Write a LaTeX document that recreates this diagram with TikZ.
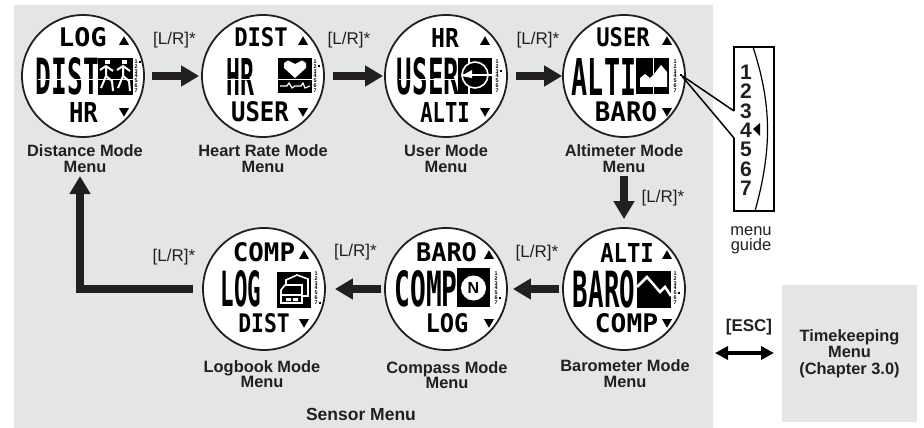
\documentclass[tikz,border=0pt]{standalone}
\usepackage{graphicx}
\usepackage{fontspec}
\setmainfont{Liberation Sans}
\newfontfamily\lcdfont{DejaVu Sans Mono}
\usetikzlibrary{arrows.meta,shapes.geometric}
\definecolor{panelgray}{HTML}{E4E5E7}
\definecolor{inkgray}{HTML}{231F20}
\newcommand{\lcdtext}[3]{\resizebox{1.07\dimexpr #1pt\relax}{#2pt}{\lcdfont\bfseries #3}}
\tikzset{
  face/.style={circle,draw=inkgray,fill=white,line width=1.8pt,minimum size=122pt,inner sep=0pt},
  lcd/.style={inner sep=0pt,text=black},
  icon/.style={rectangle,fill=black,inner sep=0pt},
  iconline/.style={draw=white,line width=2pt},
  lcdgap/.style={draw=white,line width=1pt},
  upmark/.style={regular polygon,regular polygon sides=3,fill=black,inner sep=0pt,minimum size=11.5pt},
  downmark/.style={upmark,shape border rotate=180},
  nums/.style={inner sep=0pt,align=center,text=black,font=\bfseries\fontsize{5.4}{4.8}\selectfont},
  tick/.style={rectangle,fill=black,inner sep=0pt,minimum size=2pt},
  modelabel/.style={inner sep=0pt,align=center,text=inkgray,font=\bfseries\fontsize{16.4}{15.5}\selectfont},
  keylabel/.style={inner sep=0pt,text=inkgray,font=\fontsize{17}{17}\selectfont},
  bigarrow/.style={draw=inkgray,line width=7.5pt,-{Triangle[length=18pt,width=20pt]}},
  esc/.style={draw=black,line width=3.5pt,{Triangle[length=13pt,width=13pt]}-{Triangle[length=13pt,width=13pt]}},
  guideline/.style={draw=black,line width=1.5pt},
  digit/.style={inner sep=0pt,text=inkgray,font=\bfseries\fontsize{21}{21}\selectfont}
}
\begin{document}
\begin{tikzpicture}[x=1pt,y=-1pt]
  \useasboundingbox (0,0) rectangle (924,428);
  \node[fill=panelgray,inner sep=0pt,minimum width=699pt,minimum height=423pt] (sensor) at (363.5,216.5) {};
  \node[fill=panelgray,inner sep=0pt,minimum width=135pt,minimum height=137pt,align=center,text=inkgray,font=\bfseries\fontsize{16.4}{16.6}\selectfont] (timebox) at (849.5,353.5) {Timekeeping\\Menu\\(Chapter 3.0)};

  % top row
  \node[face] (dist) at (83,76) {};
  \node[face] (heart) at (263,76) {};
  \node[face] (user) at (446,76) {};
  \node[face] (alti) at (624,76) {};
  % bottom row
  \node[face] (baro) at (624,289) {};
  \node[face] (comp) at (446,289) {};
  \node[face] (log) at (264,289) {};

  % distance
  \node[lcd] (disttop) at (82.5,37.5) {\lcdtext{45}{19}{LOG}};
  \node[lcd] (distmid) at (67.5,76.5) {\lcdtext{59}{37}{DIST}};
  \node[lcd] (distbot) at (83.5,112) {\lcdtext{27}{20}{HR}};
  \node[icon,minimum width=35pt,minimum height=37pt] (distico) at (115.5,76.5) {};
  \fill[white] (105,60) rectangle (109.5,64.5);
  \fill[white] (122,60) rectangle (126.5,64.5);
  \draw[iconline] (100,70) -- (106,66) -- (113,71) (106,66) -- (106,76) -- (101,88) (106,76) -- (112,81) -- (113,91);
  \draw[iconline] (117,70) -- (123,66) -- (130,71) (123,66) -- (123,76) -- (118,88) (123,76) -- (129,81) -- (130,91);
  \draw[lcdgap] (38,80) -- (133,80);
  \node[upmark] (distup) at (124,42) {};
  \node[downmark] (distdown) at (124,111) {};
  \node[nums] (distnums) at (136,76) {1\\2\\3\\4\\5\\6\\7};
  \node[tick] (disttick) at (140,62) {};

  % heart rate
  \node[lcd] (hearttop) at (261,37.5) {\lcdtext{50}{19}{DIST}};
  \node[lcd] (heartmid) at (240,76.5) {\lcdtext{26}{37}{HR}};
  \node[lcd] (heartbot) at (260,112) {\lcdtext{54}{20}{USER}};
  \node[icon,minimum width=34pt,minimum height=35pt] (heartico) at (295,75.5) {};
  \fill[white] (295,78) -- (284,68) -- (284,63) -- (288,60.5) -- (295,64) -- (302,60.5) -- (306,63) -- (306,68) -- cycle;
  \draw[iconline,line width=1.2pt] (280,86) -- (287,86) -- (289,83) -- (292,88) -- (295,86) -- (301,86) -- (303,83) -- (305,88) -- (310,86);
  \draw[lcdgap] (226,80) -- (312,80);
  \node[upmark] (heartup) at (303,42) {};
  \node[downmark] (heartdown) at (303,111) {};
  \node[nums] (heartnums) at (315,76) {1\\2\\3\\4\\5\\6\\7};
  \node[tick] (hearttick) at (319,66) {};

  % user
  \node[lcd] (usertop) at (445,37.5) {\lcdtext{26}{19}{HR}};
  \node[lcd] (usermid) at (428,76.5) {\lcdtext{58}{37}{USER}};
  \node[lcd] (userbot) at (445,112) {\lcdtext{46}{20}{ALTI}};
  \node[icon,minimum width=34pt,minimum height=36pt] (userico) at (475,76) {};
  \draw[iconline,line width=1.6pt] (475,75) circle (13);
  \draw[iconline,line width=1.6pt] (492,75) -- (463,75);
  \draw[iconline,line width=1.6pt] (469,58) -- (469,63) (469,87) -- (469,94);
  \fill[white] (461,76) -- (472,70) -- (472,78) -- cycle;
  \draw[lcdgap] (399,80) -- (457,80);
  \node[upmark] (userup) at (485,42) {};
  \node[downmark] (userdown) at (485,111) {};
  \node[nums] (usernums) at (497,76) {1\\2\\3\\4\\5\\6\\7};
  \node[tick] (usertick) at (501,71.5) {};

  % altimeter
  \node[lcd] (altitop) at (623,37.5) {\lcdtext{50}{19}{USER}};
  \node[lcd] (altimid) at (604,76.5) {\lcdtext{60}{37}{ALTI}};
  \node[lcd] (altibot) at (626,112) {\lcdtext{58}{20}{BARO}};
  \node[icon,minimum width=33pt,minimum height=36pt] (altiico) at (652.5,76) {};
  \fill[white] (640,87) -- (640,78) -- (645,74) -- (650,78) -- (654,74) -- (661,65) -- (667,72) -- (667,87) -- cycle;
  \draw[iconline,line width=1pt] (653.5,58) -- (653.5,74) (653.5,87) -- (653.5,94);
  \node[upmark] (altiup) at (667,42) {};
  \node[downmark] (altidown) at (667,111) {};
  \node[nums] (altinums) at (675,76) {1\\2\\3\\4\\5\\6\\7};
  \node[tick] (altitick) at (681,75) {};

  % barometer
  \node[lcd] (barotop) at (627,252.5) {\lcdtext{50}{19}{ALTI}};
  \node[lcd] (baromid) at (604,289.5) {\lcdtext{58}{37}{BARO}};
  \node[lcd] (barobot) at (626.5,323.5) {\lcdtext{59}{19}{COMP}};
  \node[icon,minimum width=34pt,minimum height=37pt] (baroico) at (654,289.5) {};
  \draw[iconline,line width=2.5pt] (637,287) -- (647,277) -- (660,292) -- (665,287) -- (671,296);
  \node[upmark] (baroup) at (667,256) {};
  \node[downmark] (barodown) at (667,322) {};
  \node[nums] (baronums) at (675,288) {1\\2\\3\\4\\5\\6\\7};
  \node[tick] (barotick) at (679,293) {};

  % compass
  \node[lcd] (comptop) at (446.5,252.5) {\lcdtext{57}{19}{BARO}};
  \node[lcd] (compmid) at (426,289) {\lcdtext{59}{36}{COMP}};
  \node[lcd] (compbot) at (447,323.5) {\lcdtext{40}{19}{LOG}};
  \node[icon,minimum width=33pt,minimum height=39pt] (compico) at (473.5,287.5) {};
  \node[circle,fill=white,minimum size=25pt,inner sep=0pt,font=\bfseries\fontsize{16}{16}\selectfont] (compdial) at (473.5,288) {N};
  \node[upmark] (compup) at (489,256) {};
  \node[downmark] (compdown) at (489,322) {};
  \node[nums] (compnums) at (496,288) {1\\2\\3\\4\\5\\6\\7};
  \node[tick] (comptick) at (500,298) {};

  % logbook
  \node[lcd] (logtop) at (264,252.5) {\lcdtext{58}{19}{COMP}};
  \node[lcd] (logmid) at (241,289) {\lcdtext{38}{36}{LOG}};
  \node[lcd] (logbot) at (264,323.5) {\lcdtext{48}{19}{DIST}};
  \node[icon,minimum width=34pt,minimum height=36pt] (logico) at (294,289.5) {};
  \draw[iconline,line width=1.6pt] (281,303) -- (281,290) -- (285,285) -- (302,285) -- (302,303) -- cycle;
  \draw[iconline,line width=1.6pt] (281,295) -- (302,295) (286,285) -- (286,280) -- (297,275) -- (308,279) -- (308,296) -- (302,296);
  \fill[white] (286,298) rectangle (291,301) (293,298) rectangle (298,301);
  \node[upmark] (logup) at (304,256) {};
  \node[downmark] (logdown) at (304,322) {};
  \node[nums] (lognums) at (316,288) {1\\2\\3\\4\\5\\6\\7};
  \node[tick] (logtick) at (319.5,303) {};

  % mode names
  \node[modelabel] (distname) at (85,158.5) {Distance Mode\\Menu};
  \node[modelabel] (heartname) at (263,158.5) {Heart Rate Mode\\Menu};
  \node[modelabel] (username) at (446,158.5) {User Mode\\Menu};
  \node[modelabel] (altiname) at (624,158.5) {Altimeter Mode\\Menu};
  \node[modelabel] (baroname) at (625,373.5) {Barometer Mode\\Menu};
  \node[modelabel] (compname) at (447,375) {Compass Mode\\Menu};
  \node[modelabel] (logname) at (262,374) {Logbook Mode\\Menu};
  \node[modelabel,font=\bfseries\fontsize{17.5}{17.5}\selectfont] (sensorname) at (361,414) {Sensor Menu};

  % arrows
  \path (dist) edge[bigarrow,shorten <=7pt,shorten >=2pt] (heart);
  \path (heart) edge[bigarrow,shorten <=8pt,shorten >=1pt] (user);
  \path (user) edge[bigarrow,shorten <=8pt] (alti);
  \path (alti) edge[bigarrow,shorten <=38pt,shorten >=8pt] (baro);
  \path (baro) edge[bigarrow,shorten <=3pt,shorten >=5pt] (comp);
  \path (comp) edge[bigarrow,shorten <=3pt,shorten >=9pt] (log);
  \coordinate (logcorner) at (80,289);
  \coordinate (disttip) at (80,176);
  \draw[bigarrow,shorten <=9pt] (log) -- (logcorner) -- (disttip);

  \node[keylabel] (key1) at (174.5,40) {[L/R]*};
  \node[keylabel] (key2) at (349,40) {[L/R]*};
  \node[keylabel] (key3) at (538,40) {[L/R]*};
  \node[keylabel] (key4) at (663,198) {[L/R]*};
  \node[keylabel] (key5) at (537,253) {[L/R]*};
  \node[keylabel] (key6) at (355.5,252) {[L/R]*};
  \node[keylabel] (key7) at (174,257) {[L/R]*};

  % esc
  \node[inner sep=0pt,text=inkgray,font=\bfseries\fontsize{17}{17}\selectfont] (esckey) at (749,327) {[ESC]};
  \coordinate (escleft) at (715,353);
  \coordinate (escright) at (774,353);
  \path (escleft) edge[esc] (escright);

  % guide
  \coordinate (guidea) at (734,111);
  \coordinate (guideb) at (734,138);
  \draw[guideline] (guidea) -- (734,47) -- (774,47) -- (774,211) -- (734,211) -- (guideb);
  \draw[guideline,line width=1.2pt] (753,47) .. controls (772,105) and (772,150) .. (755,211);
  \path (altitick) edge[guideline] (guidea);
  \path (altitick) edge[guideline] (guideb);
  \node[digit] (g1) at (746,72) {1};
  \node[digit] (g2) at (746,91.5) {2};
  \node[digit] (g3) at (746,111) {3};
  \node[digit] (g4) at (746,130) {4};
  \node[digit] (g5) at (746,149.5) {5};
  \node[digit] (g6) at (746,169) {6};
  \node[digit] (g7) at (746,188) {7};
  \fill[black] (753,129) -- (760,123) -- (760,136) -- cycle;
  \node[inner sep=0pt,align=center,text=inkgray,font=\fontsize{16.5}{15}\selectfont] (guidename) at (751,240.5) {menu\\guide};
\end{tikzpicture}
\end{document}
